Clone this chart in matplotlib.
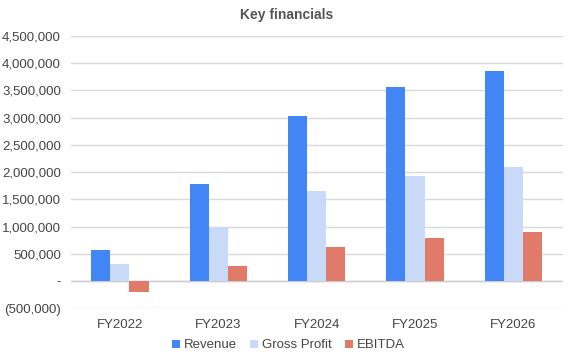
import matplotlib
matplotlib.use("Agg")
import matplotlib.pyplot as plt
import numpy as np
from matplotlib.ticker import FuncFormatter, MultipleLocator

categories = ["FY2022", "FY2023", "FY2024", "FY2025", "FY2026"]
revenue = [570000, 1785000, 3035000, 3565000, 3860000]
gross_profit = [312000, 985000, 1655000, 1930000, 2100000]
ebitda = [-195000, 276000, 625000, 790000, 900000]
series_names = ["Revenue", "Gross Profit", "EBITDA"]
colors = ["#4285F4", "#C9DAF8", "#E07B69"]

plt.rcParams['font.family'] = ['Liberation Sans', 'DejaVu Sans']

fig = plt.figure(figsize=(5.73, 3.61), dpi=100)
ax = fig.add_axes([0.1234, 0.146, 0.982 - 0.1234, 0.9003 - 0.146])

x = np.arange(len(categories))
w = 0.195
for i, (vals, name, c) in enumerate(zip([revenue, gross_profit, ebitda], series_names, colors)):
    ax.bar(x + (i - 1) * w, vals, width=w, color=c, label=name, zorder=3)

ax.set_xlim(-0.5, len(categories) - 0.5)
ax.set_ylim(-500000, 4500000)
ax.yaxis.set_major_locator(MultipleLocator(500000))

def fmt(v, pos):
    if abs(v) < 1:
        return "-"
    if v < 0:
        return "({:,.0f})".format(-v)
    return "{:,.0f}".format(v)

ax.yaxis.set_major_formatter(FuncFormatter(fmt))
ax.set_xticks(x)
ax.set_xticklabels(categories)
ax.grid(axis='y', color='#D9D9D9', linewidth=1, zorder=0)
ax.axhline(0, color='#CCCCCC', linewidth=1, zorder=2)
for s in ax.spines.values():
    s.set_visible(False)
ax.tick_params(axis='both', length=0, labelsize=9.5, colors='#444444')
ax.tick_params(axis='y', pad=7)
ax.tick_params(axis='x', pad=8)

fig.text(0.5, 0.958, "Key financials", ha='center', va='center', fontsize=10,
         fontweight='bold', color='#555555')

fig.legend(loc='center', bbox_to_anchor=(0.503, 0.043), ncol=3, frameon=False,
           fontsize=9.5, handlelength=0.6, handleheight=0.6, handletextpad=0.3,
           columnspacing=1.0, labelcolor='#444444')

fig.savefig("out.png", dpi=100)
